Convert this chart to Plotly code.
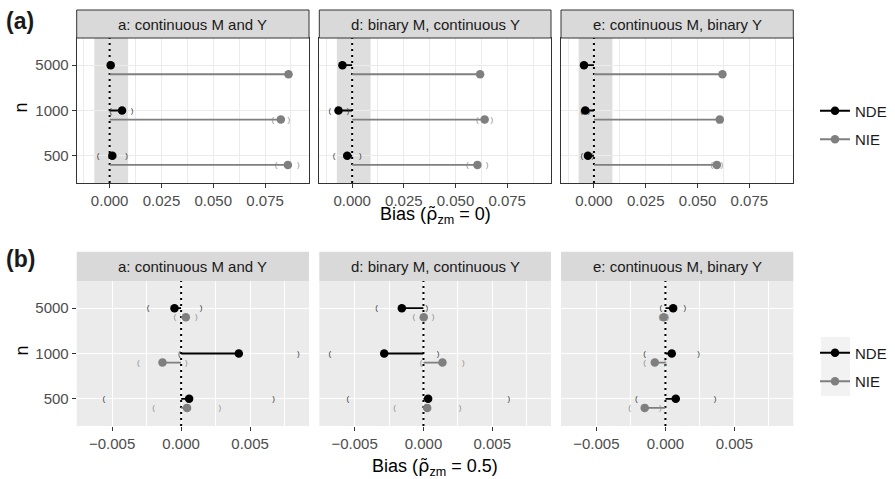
import plotly.graph_objects as go

# ---------------- data ----------------
n_levels = ["500", "1000", "5000"]
panels = ["a: continuous M and Y", "d: binary M, continuous Y", "e: continuous M, binary Y"]
row_labels = ["(a)", "(b)"]
RHO = '<span style="font-family:DejaVu Sans">\u03c1\u0303</span>'
x_titles = ["Bias (" + RHO + "<sub>zm</sub> = 0)", "Bias (" + RHO + "<sub>zm</sub> = 0.5)"]

# Row (a): rho_zm = 0 ; per panel, values for n = 500, 1000, 5000
a_nde = [[0.0013, 0.0060, 0.0005], [-0.0024, -0.0066, -0.0047], [-0.0029, -0.0042, -0.0048]]
a_nde_lo = [[-0.0056, 0.0005, -0.0008], [-0.0087, -0.0108, -0.0058], [-0.0058, -0.0060, -0.0055]]
a_nde_hi = [[0.0082, 0.0108, 0.0017], [0.0040, -0.0020, -0.0035], [-0.0005, -0.0025, -0.0040]]
a_nie = [[0.0860, 0.0826, 0.0863], [0.0606, 0.0641, 0.0619], [0.0593, 0.0607, 0.0620]]
a_nie_lo = [[0.0803, 0.0787, 0.0850], [0.0557, 0.0606, 0.0610], [0.0569, 0.0595, 0.0612]]
a_nie_hi = [[0.0911, 0.0865, 0.0876], [0.0653, 0.0676, 0.0630], [0.0617, 0.0620, 0.0628]]

# Row (b): rho_zm = 0.5
b_nde = [[0.00058, 0.00418, -0.00048], [0.00034, -0.00285, -0.00157], [0.00075, 0.00046, 0.00056]]
b_nde_lo = [[-0.0056, -0.00012, -0.0024], [-0.0055, -0.0068, -0.0034], [-0.0021, -0.0015, -0.00034]]
b_nde_hi = [[0.0067, 0.0085, 0.00144], [0.0062, 0.00106, 0.00024], [0.0036, 0.0024, 0.0014]]
b_nie = [[0.00043, -0.00135, 0.00034], [0.00027, 0.00138, 0.00002], [-0.0015, -0.00077, -0.00012]]
b_nie_lo = [[-0.0020, -0.0031, -0.00046], [-0.0021, -0.00017, -0.0007], [-0.0026, -0.0015, -0.0004]]
b_nie_hi = [[0.0028, 0.00038, 0.0011], [0.00266, 0.0029, 0.0007], [-0.00036, 0.0000, 0.00017]]

# reference band (negligible bias region) in row (a)
band_a = [-0.0074, 0.0089]

rows = [
    dict(nde=a_nde, nde_lo=a_nde_lo, nde_hi=a_nde_hi, nie=a_nie, nie_lo=a_nie_lo, nie_hi=a_nie_hi,
         dtick=0.025, minor=0.0125, theme="bw"),
    dict(nde=b_nde, nde_lo=b_nde_lo, nde_hi=b_nde_hi, nie=b_nie, nie_lo=b_nie_lo, nie_hi=b_nie_hi,
         dtick=0.005, minor=0.0025, theme="grey"),
]

# ---------------- layout geometry ----------------
W, H = 895, 479
col_px = [(76.7, 309.0), (319.3, 551.0), (561.0, 793.3)]
row_px = [(38.0, 183.0), (281.0, 426.0)]
strip_px = [(10.0, 38.0), (251.7, 281.0)]
FONT = "Liberation Sans, Arial, Helvetica, sans-serif"
NDE_COL = "#000000"
NIE_COL = "#7F7F7F"
DODGE = 0.2
YR = [0.4, 3.6]


def px_x(x):
    return x / W


def px_y(y):
    return 1 - y / H


fig = go.Figure()
layout = dict(
    width=W, height=H, autosize=False,
    margin=dict(l=0, r=0, t=0, b=0),
    paper_bgcolor="white", plot_bgcolor="white",
    font=dict(family=FONT, color="#1A1A1A"),
)
shapes = []
annotations = []

ypos = [1, 2, 3]

for r, R in enumerate(rows):
    all_lo = [v for p in R["nde_lo"] + R["nie_lo"] for v in p]
    all_hi = [v for p in R["nde_hi"] + R["nie_hi"] for v in p]
    lo, hi = min(all_lo), max(all_hi)
    pad = 0.05 * (hi - lo)
    xr = [lo - pad, hi + pad]
    bw = R["theme"] == "bw"
    gridc = "#EBEBEB" if bw else "#FFFFFF"
    for c in range(3):
        k = r * 3 + c + 1
        xs = "" if k == 1 else str(k)
        xa, ya = "x" + xs, "y" + xs
        layout["xaxis" + xs] = dict(
            domain=[px_x(col_px[c][0]), px_x(col_px[c][1])], anchor=ya, range=xr,
            tick0=0, dtick=R["dtick"], tickformat=".3f",
            ticks="outside", ticklen=4, tickwidth=1, tickcolor="#333333",
            tickfont=dict(size=15, color="#4D4D4D", family=FONT),
            showgrid=True, gridcolor=gridc, gridwidth=1.3,
            minor=dict(tick0=0, dtick=R["minor"], showgrid=True, gridcolor=gridc, gridwidth=0.6, ticks=""),
            zeroline=False, showline=bw, mirror=bw, linecolor="#333333", linewidth=1,
            fixedrange=True,
        )
        layout["yaxis" + xs] = dict(
            domain=[px_y(row_px[r][1]), px_y(row_px[r][0])], anchor=xa, range=YR,
            tickmode="array", tickvals=ypos, ticktext=n_levels,
            showticklabels=(c == 0), ticks="outside" if c == 0 else "", ticklen=4, tickwidth=1,
            tickcolor="#333333", tickfont=dict(size=15, color="#4D4D4D", family=FONT),
            showgrid=True, gridcolor=gridc, gridwidth=1.3,
            zeroline=False, showline=bw, mirror=bw, linecolor="#333333", linewidth=1,
            fixedrange=True,
        )
        # backgrounds / bands
        if not bw:
            shapes.append(dict(type="rect", xref=xa + " domain", yref=ya + " domain", x0=0, x1=1, y0=0, y1=1,
                               fillcolor="#EBEBEB", line=dict(width=0), layer="below"))
        else:
            shapes.append(dict(type="rect", xref=xa, yref=ya + " domain", x0=band_a[0], x1=band_a[1], y0=0, y1=1,
                               fillcolor="#DEDEDE", line=dict(width=0), layer="below"))

        # zero reference line (dotted)
        fig.add_trace(go.Scatter(x=[0, 0], y=YR, mode="lines",
                                 line=dict(color="black", width=2, dash="2px,4px"),
                                 xaxis=xa, yaxis=ya, showlegend=False, hoverinfo="skip"))

        # series
        for name, col, off, pcol in (("nde", NDE_COL, 0.0, "#333333"), ("nie", NIE_COL, -DODGE, "#8C8C8C")):
            vals = R[name][c]
            los = R[name + "_lo"][c]
            his = R[name + "_hi"][c]
            yy = [p + off for p in ypos]
            sx, sy = [], []
            for v, y in zip(vals, yy):
                sx += [0, v, None]
                sy += [y, y, None]
            fig.add_trace(go.Scatter(x=sx, y=sy, mode="lines", line=dict(color=col, width=1.8),
                                     xaxis=xa, yaxis=ya, showlegend=False, hoverinfo="skip"))
            fig.add_trace(go.Scatter(x=los + his, y=yy + yy, mode="text",
                                     text=["("] * 3 + [")"] * 3,
                                     textfont=dict(size=8, color=pcol, family=FONT),
                                     textposition="middle center",
                                     xaxis=xa, yaxis=ya, showlegend=False, hoverinfo="skip"))
            fig.add_trace(go.Scatter(x=vals, y=yy, mode="markers", marker=dict(color=col, size=8.5),
                                     xaxis=xa, yaxis=ya, showlegend=False, name=name.upper()))

        # strip
        shapes.append(dict(type="rect", xref="paper", yref="paper",
                           x0=px_x(col_px[c][0]), x1=px_x(col_px[c][1]),
                           y0=px_y(strip_px[r][1]), y1=px_y(strip_px[r][0]),
                           fillcolor="#D9D9D9",
                           line=dict(color="#333333", width=1) if bw else dict(width=0)))
        annotations.append(dict(text=panels[c], xref="paper", yref="paper",
                                x=px_x((col_px[c][0] + col_px[c][1]) / 2),
                                y=px_y((strip_px[r][0] + strip_px[r][1]) / 2),
                                showarrow=False, xanchor="center", yanchor="middle",
                                font=dict(size=15, color="#1A1A1A", family=FONT)))

    # legend dummies
    leg = "legend" if r == 0 else "legend2"
    for name, col in (("NDE", NDE_COL), ("NIE", NIE_COL)):
        fig.add_trace(go.Scatter(x=[None], y=[None], mode="lines+markers", name=name,
                                 line=dict(color=col, width=1.8), marker=dict(color=col, size=8.5),
                                 xaxis="x3" if r == 0 else "x6", yaxis="y3" if r == 0 else "y6",
                                 legend=leg, legendgroup=name + str(r), showlegend=True))

    # row labels / titles
    annotations.append(dict(text="<b>" + row_labels[r] + "</b>", xref="paper", yref="paper",
                            x=px_x(4), y=px_y(21 if r == 0 else 259), xanchor="left", yanchor="middle",
                            showarrow=False, font=dict(size=23, color="#1A1A1A", family=FONT)))
    annotations.append(dict(text="n", xref="paper", yref="paper", textangle=-90,
                            x=px_x(21), y=px_y((row_px[r][0] + row_px[r][1]) / 2 - 3),
                            xanchor="center", yanchor="middle", showarrow=False,
                            font=dict(size=18, color="#000000", family=FONT)))
    ty = 215 if r == 0 else 467
    annotations.append(dict(text=x_titles[r], xref="paper", yref="paper",
                            x=px_x(435), y=px_y(ty),
                            xanchor="center", yanchor="middle", showarrow=False,
                            font=dict(size=18, color="#000000", family=FONT)))

# legend key background (row b)
shapes.append(dict(type="rect", xref="paper", yref="paper", x0=px_x(821), x1=px_x(850),
                   y0=px_y(396), y1=px_y(337), fillcolor="#F2F2F2", line=dict(width=0)))

legend_common = dict(font=dict(size=15, color="#1A1A1A", family=FONT), bgcolor="rgba(0,0,0,0)",
                     traceorder="grouped", tracegroupgap=6, xanchor="left", yanchor="middle",
                     itemclick=False, itemdoubleclick=False)
layout["legend"] = dict(x=px_x(815), y=px_y(125), **legend_common)
layout["legend2"] = dict(x=px_x(815), y=px_y(367), **legend_common)
layout["shapes"] = shapes
layout["annotations"] = annotations
fig.update_layout(**layout)

fig.write_html("out.html", config={"displayModeBar": False},
               post_script="document.body.style.margin='0px';")
